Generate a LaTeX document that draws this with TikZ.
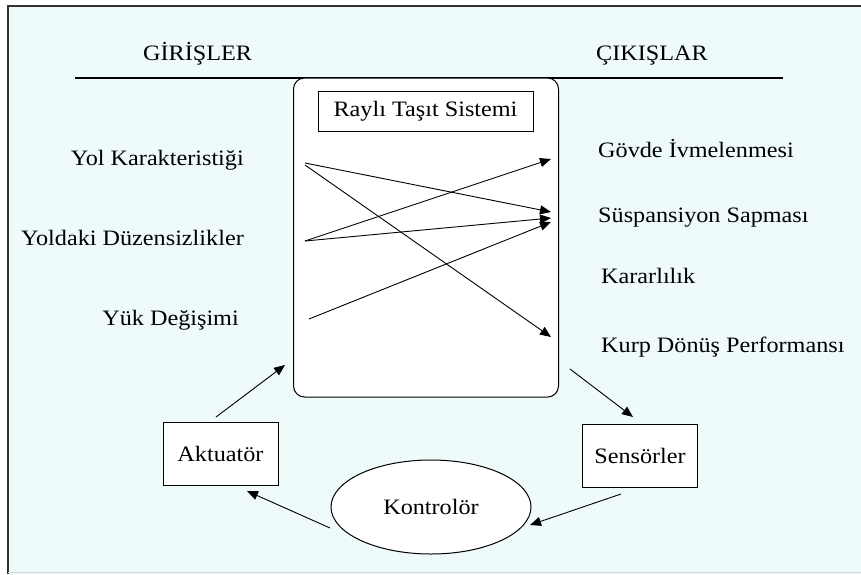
\documentclass[tikz,border=0pt]{standalone}
\usepackage{fontspec}
\setmainfont[FakeStretch=1.1]{Liberation Serif}
\usetikzlibrary{arrows.meta,shapes.geometric}
\definecolor{bgc}{HTML}{EFFAFA}
\definecolor{framec}{HTML}{333333}
\tikzset{
  lbl/.style={inner sep=0pt, font=\fontsize{22}{26}\selectfont},
  arr/.style={-{Triangle[length=11pt,width=9pt]}, line width=0.9pt},
  boxn/.style={draw, line width=1pt, fill=white, inner sep=0pt, font=\fontsize{22}{26}\selectfont},
}
\begin{document}
\begin{tikzpicture}[x=1pt,y=-1pt]
\useasboundingbox (0,0) rectangle (861,574);
\fill[white] (0,0) rectangle (861,574);
\fill[bgc] (8,6) rectangle (861,574);
\draw[framec, line width=2pt] (8,574) -- (8,6) -- (861,6);
\draw[black!15, line width=1pt] (8,572.5) -- (861,572.5);

% headings
\node[lbl, anchor=base west] (gir) at (143,60) {GİRİŞLER};
\node[lbl, anchor=base west] (cik) at (596,60) {ÇIKIŞLAR};
\draw[line width=1.2pt] (75,78) -- (783,78);

% main system box
\node[draw, line width=1pt, fill=white, rounded corners=11pt, minimum width=265pt, minimum height=319pt, inner sep=0pt] (sys) at (426,237.5) {};
\node[boxn, minimum width=215pt, minimum height=40pt] (title) at (425.5,111) {Raylı Taşıt Sistemi};

% inputs
\node[lbl, anchor=base east] (in1) at (244,165) {Yol Karakteristiği};
\node[lbl, anchor=base east] (in2) at (244,245) {Yoldaki Düzensizlikler};
\node[lbl, anchor=base east] (in3) at (239,325) {Yük Değişimi};

% outputs
\node[lbl, anchor=base west] (out1) at (598,157) {Gövde İvmelenmesi};
\node[lbl, anchor=base west] (out2) at (598,222) {Süspansiyon Sapması};
\node[lbl, anchor=base west] (out3) at (601,283) {Kararlılık};
\node[lbl, anchor=base west] (out4) at (601,352) {Kurp Dönüş Performansı};

% arrow end points
\coordinate (a1) at (305,163);
\coordinate (a1b) at (305,165);
\coordinate (a2) at (305,241);
\coordinate (a3) at (309,319);
\coordinate (b1) at (551,159);
\coordinate (b2) at (551,212);
\coordinate (b2b) at (551,218);
\coordinate (b2c) at (551,222);
\coordinate (b4) at (551,337);

\draw[arr] (a1) -- (b2);
\draw[arr] (a1b) -- (b4);
\draw[arr] (a2) -- (b1);
\draw[arr] (a2) -- (b2b);
\draw[arr] (a3) -- (b2c);

% control loop
\node[boxn, minimum width=115pt, minimum height=63pt] (akt) at (220.5,453.5) {Aktuatör};
\node[boxn, minimum width=115pt, minimum height=63pt] (sen) at (640,455.5) {Sensörler};
\node[draw, line width=1pt, fill=white, ellipse, minimum width=200pt, minimum height=94pt, inner sep=0pt, font=\fontsize{22}{26}\selectfont] (kon) at (431,507) {Kontrolör};

\coordinate (c1) at (216,417);
\coordinate (c2) at (285,365);
\coordinate (c3) at (570,369);
\coordinate (c4) at (633,417);
\coordinate (c5) at (621,494);
\coordinate (c6) at (530,525);
\coordinate (c7) at (330,528);
\coordinate (c8) at (247,491);

\draw[arr] (c1) -- (c2);
\draw[arr] (c3) -- (c4);
\draw[arr] (c5) -- (c6);
\draw[arr] (c7) -- (c8);
\end{tikzpicture}
\end{document}
